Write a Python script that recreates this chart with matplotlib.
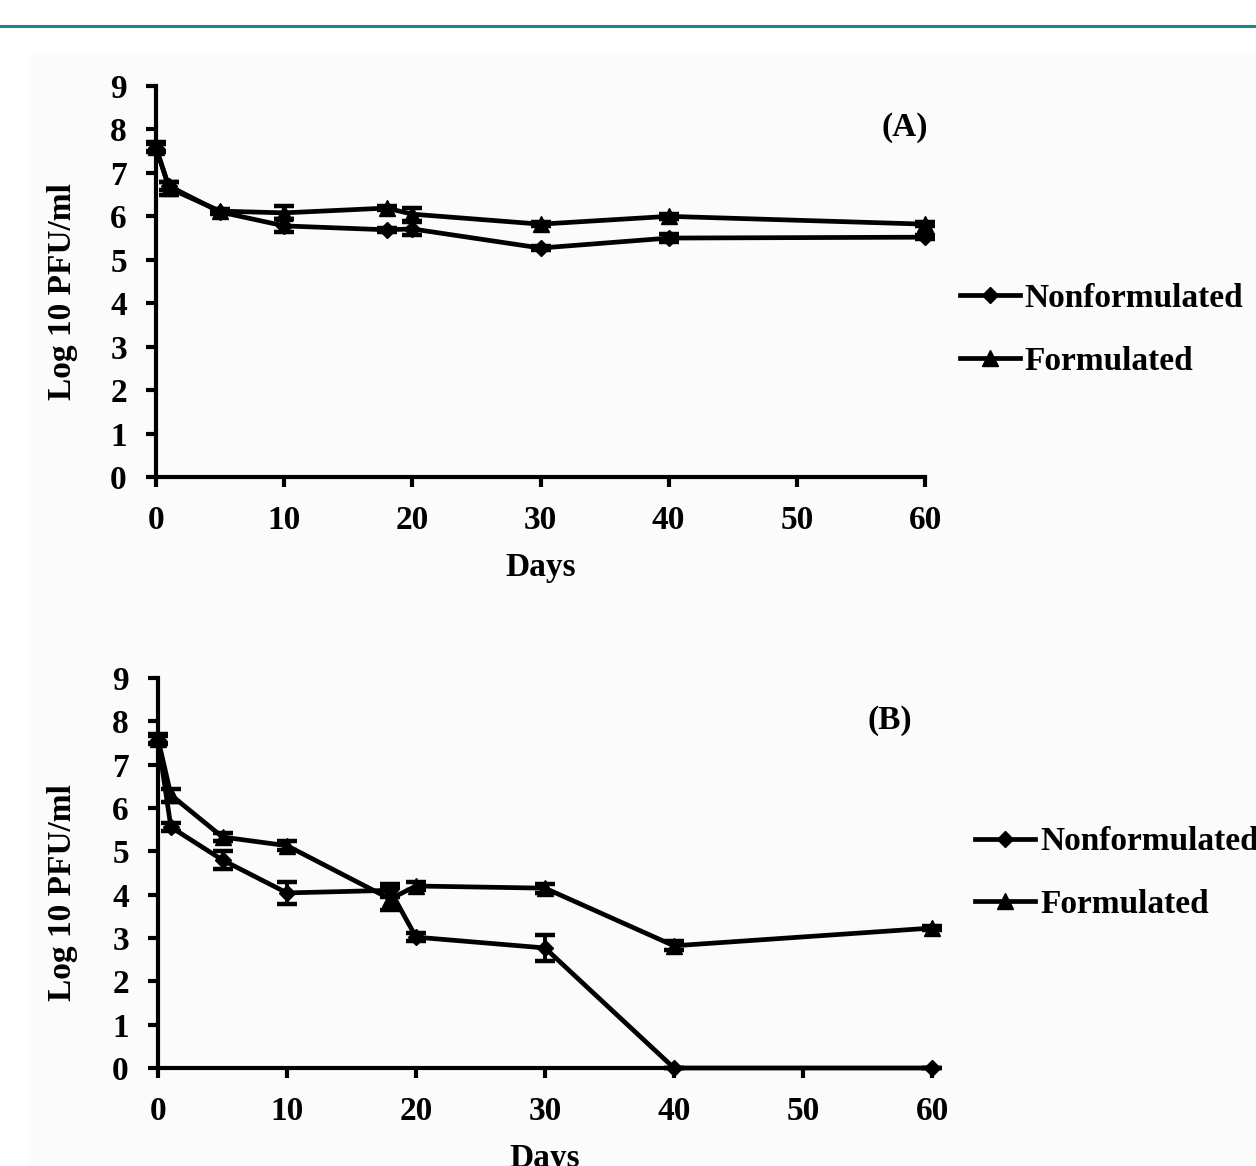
import numpy as np
import matplotlib
matplotlib.use("Agg")
import matplotlib.pyplot as plt
from matplotlib.patches import Rectangle
from matplotlib.lines import Line2D

plt.rcParams['font.family'] = ['Liberation Serif', 'DejaVu Serif']
plt.rcParams['font.weight'] = 'bold'

# Días de muestreo (ambos paneles)
days = [0, 1, 5, 10, 18, 20, 30, 40, 60]

# Panel A
a_nonform = [7.57, 6.70, 6.10, 5.78, 5.69, 5.71, 5.27, 5.50, 5.52]
a_nonform_err = [0.10, 0.10, 0.05, 0.15, 0.05, 0.15, 0.05, 0.10, 0.05]
a_form = [7.60, 6.65, 6.12, 6.08, 6.19, 6.05, 5.82, 6.00, 5.82]
a_form_err = [0.10, 0.15, 0.05, 0.15, 0.05, 0.15, 0.05, 0.05, 0.05]

# Panel B
b_nonform = [7.57, 5.56, 4.80, 4.04, 4.10, 3.02, 2.77, 0.0, 0.0]
b_nonform_err = [0.10, 0.10, 0.20, 0.25, 0.15, 0.10, 0.30, 0.0, 0.0]
b_form = [7.60, 6.30, 5.33, 5.13, 3.90, 4.20, 4.15, 2.82, 3.23]
b_form_err = [0.10, 0.15, 0.10, 0.10, 0.25, 0.10, 0.10, 0.10, 0.05]

labels = ["Nonformulated", "Formulated"]
xticks = [0, 10, 20, 30, 40, 50, 60]
yticks = list(range(0, 10))

W, H = 1256, 1166
fig = plt.figure(figsize=(W / 100, H / 100), dpi=100)
fig.patch.set_facecolor('white')

# fondo ligeramente gris y línea verde azulada superior
fig.patches.append(Rectangle((28 / W, 0), 1, 1 - 55 / H, transform=fig.transFigure,
                             facecolor='#fbfbfb', edgecolor='none', zorder=-10))
fig.add_artist(Line2D([0, 1], [1 - 26 / H, 1 - 26 / H], transform=fig.transFigure,
                      color='#17898b', linewidth=2.2))

FS = 24


def panel(rect, nonform, nonform_err, form, form_err, tag, tag_pos, leg_pos, ylab_pos):
    ax = fig.add_axes(rect)
    ax.set_facecolor('none')
    for y_, e_ in ((nonform, nonform_err), (form, form_err)):
        ax.errorbar(days, y_, yerr=e_, fmt='none', ecolor='black', elinewidth=2.8,
                    capsize=7, capthick=3.2, clip_on=False, zorder=3)
    l1, = ax.plot(days, nonform, color='black', lw=3.4, marker='D', ms=8.5,
                  clip_on=False, zorder=4)
    l2, = ax.plot(days, form, color='black', lw=3.4, marker='^', ms=11.5,
                  clip_on=False, zorder=4)
    ax.set_xlim(0, 60)
    ax.set_ylim(0, 9)
    ax.set_xticks(xticks)
    ax.set_yticks(yticks)
    for s in ('top', 'right'):
        ax.spines[s].set_visible(False)
    for s in ('left', 'bottom'):
        ax.spines[s].set_linewidth(3)
    ax.tick_params(axis='both', direction='out', length=7, width=3,
                   labelsize=FS)
    ax.tick_params(axis='y', pad=14)
    ax.tick_params(axis='x', pad=13)
    ax.set_xlabel("Days", fontsize=FS, fontweight='bold', labelpad=12)
    ax.set_ylabel("Log 10 PFU/ml", fontsize=FS, fontweight='bold')
    ax.yaxis.set_label_coords(*ylab_pos)
    ax.text(tag_pos[0], tag_pos[1], tag, transform=ax.transAxes, fontsize=FS,
            fontweight='bold', ha='center', va='center')
    ax.legend([l1, l2], labels, loc='center left', bbox_to_anchor=leg_pos,
              frameon=False, fontsize=FS, handlelength=1.8, handletextpad=0.15,
              labelspacing=0.95, borderpad=0, borderaxespad=0)
    return ax


panel([156 / W, 1 - 477 / H, (925 - 156) / W, (477 - 86) / H],
      a_nonform, a_nonform_err, a_form, a_form_err,
      "(A)", (0.974, 0.893), (1.045, 0.376), (-0.101, 0.473))
panel([158 / W, 1 - 1068 / H, (932 - 158) / W, (1068 - 678) / H],
      b_nonform, b_nonform_err, b_form, b_form_err,
      "(B)", (0.946, 0.892), (1.056, 0.500), (-0.103, 0.449))

fig.savefig("out.png", dpi=100)
